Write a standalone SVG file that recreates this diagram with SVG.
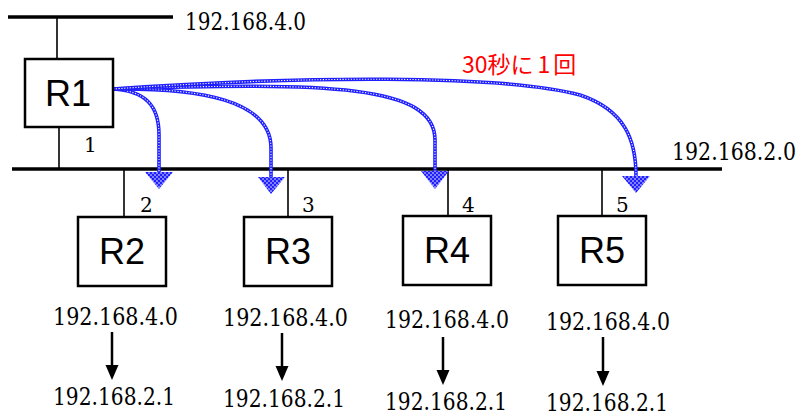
<svg xmlns="http://www.w3.org/2000/svg" width="801" height="419" viewBox="0 0 801 419">
<style>
.box{fill:#fff;stroke:#000;stroke-width:2.5}
.rl{font-size:36px;fill:#000;text-anchor:middle}
.ip{font-size:24px;fill:#000}
.num{font-size:20px;fill:#000}
.bus{stroke:#000;stroke-width:3.5;fill:none}
.lnk{stroke:#000;stroke-width:1.6;fill:none}
.rip{fill:none;stroke:#1f1fff;stroke-width:3.6;stroke-linecap:round}
.ripd{fill:none;stroke:#fff;stroke-width:1.1;stroke-dasharray:1.2 1.6}
.ah{fill:url(#dots)}
.arr{stroke:#000;stroke-width:2.5;fill:none}
</style>
<defs>
<pattern id="dots" width="4" height="4" patternUnits="userSpaceOnUse">
<rect width="4" height="4" fill="#1f1fff"/>
<circle cx="1" cy="1" r="0.8" fill="#fff"/>
<circle cx="3" cy="3" r="0.8" fill="#fff"/>
</pattern>
</defs>
<g id="connectors">
<line class="bus" x1="8" y1="17" x2="173" y2="17"/>
<line class="bus" x1="12" y1="169" x2="722" y2="169"/>
<line class="lnk" x1="57" y1="17" x2="57" y2="59"/>
<line class="lnk" x1="59" y1="127" x2="59" y2="169"/>
<line class="lnk" x1="124" y1="169" x2="124" y2="217"/>
<line class="lnk" x1="288" y1="169" x2="288" y2="217"/>
<line class="lnk" x1="448" y1="169" x2="448" y2="216"/>
<line class="lnk" x1="602" y1="169" x2="602" y2="216"/>
<g id="ripflows">
<path class="rip" d="M113,89 C145,91 159,105 159,135 L159,172"/>
<path class="ripd" d="M113,89 C145,91 159,105 159,135 L159,172"/>
<path class="rip" d="M113,89 C200,88 271,100 271,148 L271,177"/>
<path class="ripd" d="M113,89 C200,88 271,100 271,148 L271,177"/>
<path class="rip" d="M113,89 C330,82 435,85 435,140 L435,171"/>
<path class="ripd" d="M113,89 C330,82 435,85 435,140 L435,171"/>
<path class="rip" d="M113,89 C300,76 500,74 580,95 C625,110 636,140 636,176"/>
<path class="ripd" d="M113,89 C300,76 500,74 580,95 C625,110 636,140 636,176"/>
<polygon class="ah" points="145,172 173,172 159,189"/>
<polygon class="ah" points="258,177 285,177 271,194"/>
<polygon class="ah" points="421,171 449,171 435,189"/>
<polygon class="ah" points="622,176 650,176 636,193"/>
</g>
<line class="arr" x1="112" y1="332" x2="112" y2="367"/>
<polygon points="105.5,365 118.5,365 112,380"/>
<line class="arr" x1="282" y1="333" x2="282" y2="368"/>
<polygon points="275.5,366 288.5,366 282,381"/>
<line class="arr" x1="443" y1="337" x2="443" y2="372"/>
<polygon points="436.5,370 449.5,370 443,385"/>
<line class="arr" x1="603" y1="337" x2="603" y2="373"/>
<polygon points="596.5,371 609.5,371 603,386"/>
</g>
<g id="R1">
<rect class="box" x="25" y="59" width="88" height="68"/>
<text class="rl" font-family="Liberation Sans, Arial, sans-serif" x="68" y="106">R1</text>
</g>
<g id="R2">
<rect class="box" x="78" y="217" width="88" height="69"/>
<text class="rl" font-family="Liberation Sans, Arial, sans-serif" x="122" y="264">R2</text>
</g>
<g id="R3">
<rect class="box" x="244" y="217" width="88" height="69"/>
<text class="rl" font-family="Liberation Sans, Arial, sans-serif" x="288" y="264">R3</text>
</g>
<g id="R4">
<rect class="box" x="403" y="216" width="88" height="69"/>
<text class="rl" font-family="Liberation Sans, Arial, sans-serif" x="447" y="263">R4</text>
</g>
<g id="R5">
<rect class="box" x="558" y="216" width="88" height="69"/>
<text class="rl" font-family="Liberation Sans, Arial, sans-serif" x="602" y="263">R5</text>
</g>
<g id="labels">
<text class="ip" font-family="DejaVu Serif, serif" x="185" y="30" textLength="121" lengthAdjust="spacingAndGlyphs">192.168.4.0</text>
<text class="ip" font-family="DejaVu Serif, serif" x="796" y="160" text-anchor="end" textLength="124" lengthAdjust="spacingAndGlyphs">192.168.2.0</text>
<text class="num" font-family="DejaVu Serif, serif" x="84" y="152">1</text>
<text class="num" font-family="DejaVu Serif, serif" x="140" y="212">2</text>
<text class="num" font-family="DejaVu Serif, serif" x="302" y="212">3</text>
<text class="num" font-family="DejaVu Serif, serif" x="462" y="212">4</text>
<text class="num" font-family="DejaVu Serif, serif" x="616" y="212">5</text>
<text x="462" y="73" font-family="Noto Sans CJK JP, Noto Sans, sans-serif" font-size="23" fill="#ff0000">30秒に<tspan dx="4">1</tspan><tspan dx="3">回</tspan></text>
<text class="ip" font-family="DejaVu Serif, serif" x="53" y="325" textLength="125" lengthAdjust="spacingAndGlyphs">192.168.4.0</text>
<text class="ip" font-family="DejaVu Serif, serif" x="53" y="405" textLength="122" lengthAdjust="spacingAndGlyphs">192.168.2.1</text>
<text class="ip" font-family="DejaVu Serif, serif" x="223" y="326" textLength="125" lengthAdjust="spacingAndGlyphs">192.168.4.0</text>
<text class="ip" font-family="DejaVu Serif, serif" x="223" y="407" textLength="122" lengthAdjust="spacingAndGlyphs">192.168.2.1</text>
<text class="ip" font-family="DejaVu Serif, serif" x="385" y="328" textLength="124" lengthAdjust="spacingAndGlyphs">192.168.4.0</text>
<text class="ip" font-family="DejaVu Serif, serif" x="385" y="410" textLength="122" lengthAdjust="spacingAndGlyphs">192.168.2.1</text>
<text class="ip" font-family="DejaVu Serif, serif" x="546" y="330" textLength="124" lengthAdjust="spacingAndGlyphs">192.168.4.0</text>
<text class="ip" font-family="DejaVu Serif, serif" x="546" y="411" textLength="122" lengthAdjust="spacingAndGlyphs">192.168.2.1</text>
</g>
</svg>
